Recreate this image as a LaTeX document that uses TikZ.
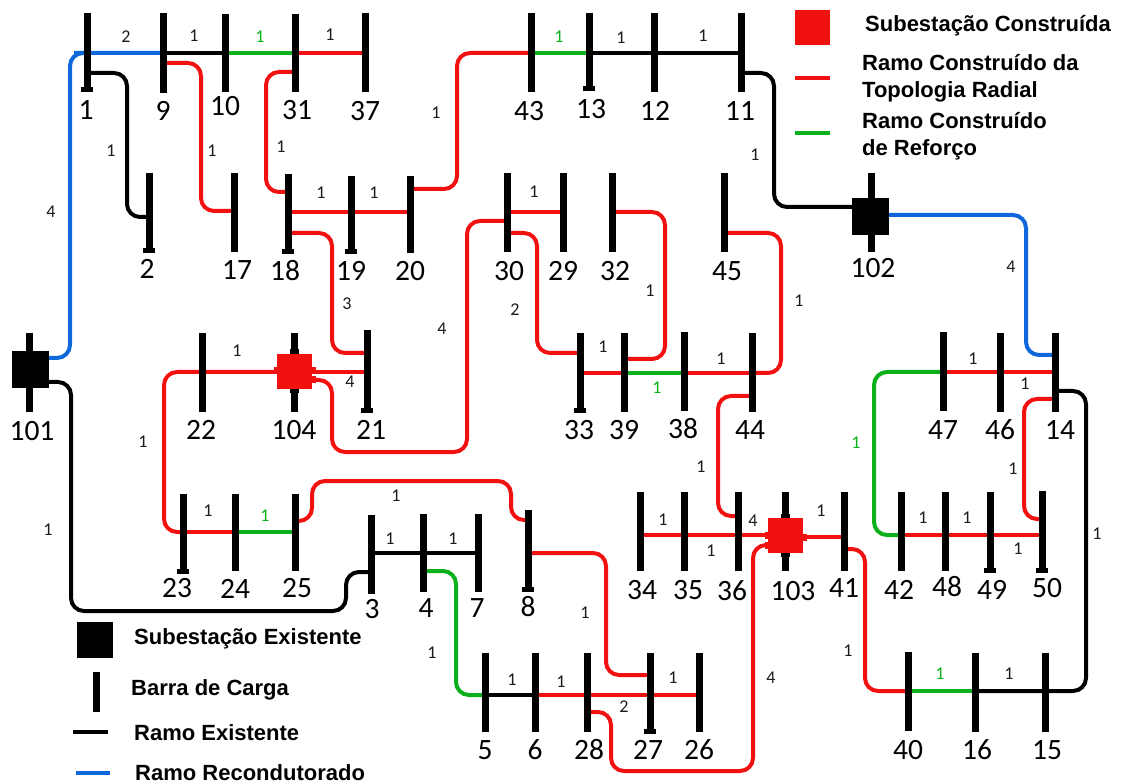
\documentclass[tikz,border=0pt]{standalone}
\usepackage{fontspec}
\setmainfont{Carlito}
\newfontfamily\legfont{Liberation Sans}
\pgfdeclarelayer{bg}
\pgfsetlayers{bg,main}
\definecolor{cred}{HTML}{F21111}
\definecolor{cgreen}{HTML}{0BB01C}
\definecolor{cblue}{HTML}{0F68D9}
\definecolor{ctext}{HTML}{1A1A1A}
\tikzset{
  x=1pt,y=-1pt,
  busbar/.style={rectangle,fill=black,draw=none,inner sep=0pt,minimum width=7pt},
  busfoot/.style={rectangle,fill=black,draw=none,inner sep=0pt,minimum width=12pt,minimum height=5pt},
  busname/.style={inner sep=0pt,text=black,font=\fontsize{29.5}{31}\selectfont},
  edgelab/.style={inner sep=0pt,text=ctext,font=\fontsize{18}{20}\selectfont},
  edgelabg/.style={edgelab,text=cgreen},
  sqblack/.style={rectangle,fill=black,draw=none,inner sep=0pt,minimum size=37pt},
  sqred/.style={rectangle,fill=cred,draw=none,inner sep=0pt,minimum size=35pt},
  stubk/.style={rectangle,fill=black,draw=none,inner sep=0pt,minimum width=9pt,minimum height=5pt},
  stubr/.style={rectangle,fill=cred,draw=none,inner sep=0pt,minimum width=7pt,minimum height=7pt},
  ex/.style={line width=4pt,draw=black,rounded corners=13pt},
  rad/.style={line width=4pt,draw=cred,rounded corners=13pt},
  ref/.style={line width=4pt,draw=cgreen,rounded corners=13pt},
  rec/.style={line width=4pt,draw=cblue,rounded corners=13pt},
  legtext/.style={inner sep=0pt,anchor=west,align=left,text=black,font=\legfont\bfseries\fontsize{22}{27}\selectfont},
}
\newcommand{\bus}[6]{%
  \node[busbar,minimum height={(#4)-(#3)}] (b#1) at (#2,{((#3)+(#4))/2}) {};
  \node[busname] (n#1) at (#5,{(#6)+1}) {#1};}
\newcommand{\busf}[6]{%
  \bus{#1}{#2}{#3}{#4}{#5}{#6}
  \node[busfoot] (f#1) at (#2,{(#4)-1}) {};}
\newcommand{\elab}[3]{\node[edgelab] (e#1) at (#2,#3) {1};}
\begin{document}
\begin{tikzpicture}
\useasboundingbox (0,0) rectangle (1122,783);
% top row
\busf{1}{87}{13}{91}{86}{109}
\bus{9}{163}{13}{93}{163}{110}
\bus{10}{225}{14}{92}{225}{105}
\bus{31}{295}{14}{92}{297}{109}
\bus{37}{365}{13}{92}{365}{110}
\bus{43}{531}{13}{92}{529}{110}
\busf{13}{589}{13}{90}{591}{108}
\bus{12}{654}{13}{92}{655}{110}
\bus{11}{741}{13}{92}{740}{110}
% second row
\busf{2}{149}{173}{252}{147}{268}
\bus{17}{234}{173}{252}{237}{269}
\busf{18}{288}{174}{253}{285}{270}
\busf{19}{351}{176}{253}{351}{270}
\bus{20}{410}{176}{253}{410}{270}
\bus{30}{507}{173}{252}{509}{270}
\bus{29}{563}{173}{252}{563}{270}
\bus{32}{612}{173}{252}{615}{270}
\bus{45}{724}{173}{252}{727}{270}
\bus{102}{871}{173}{252}{873}{267}
% third row
\bus{101}{29}{333}{412}{32}{430}
\bus{22}{202}{333}{412}{201}{429}
\bus{104}{294}{333}{412}{294}{429}
\busf{21}{367}{330}{412}{371}{429}
\busf{33}{580}{333}{412}{579}{429}
\bus{39}{624}{333}{412}{624}{429}
\bus{38}{684}{332}{411}{683}{428}
\bus{44}{752}{333}{412}{750}{429}
\bus{47}{943}{332}{411}{943}{429}
\bus{46}{1000}{333}{412}{1000}{429}
\bus{14}{1055}{333}{412}{1060}{429}
% fourth row
\busf{23}{183}{494}{572}{177}{587}
\bus{24}{235}{494}{571}{235}{588}
\bus{25}{295}{494}{571}{297}{587}
\bus{3}{371}{515}{594}{372}{608}
\bus{4}{423}{514}{592}{426}{607}
\bus{7}{478}{514}{592}{477}{607}
\busf{8}{528}{510}{590}{528}{606}
\bus{34}{640}{492}{571}{642}{589}
\bus{35}{684}{492}{571}{688}{589}
\bus{36}{738}{492}{571}{732}{590}
\bus{103}{785}{492}{571}{793}{590}
\bus{41}{844}{492}{571}{844}{587}
\bus{42}{901}{492}{571}{899}{589}
\bus{48}{945}{492}{571}{947}{586}
\busf{49}{990}{492}{571}{992}{589}
\busf{50}{1042}{491}{571}{1047}{587}
% fifth row
\bus{5}{485}{653}{732}{485}{749}
\bus{6}{535}{653}{732}{535}{749}
\bus{28}{587}{653}{732}{589}{749}
\busf{27}{650}{653}{732}{648}{749}
\bus{26}{699}{653}{732}{699}{749}
\bus{40}{908}{652}{731}{908}{749}
\bus{16}{975}{653}{732}{977}{749}
\bus{15}{1045}{653}{732}{1047}{749}
% substations
\node[stubk] (k104t) at (294,352) {};
\node[stubk] (k104b) at (294,391) {};
\node[stubr] (r104l) at (277,371) {};
\node[stubr] (r104r) at (312,371) {};
\node[stubr] (r104s) at (312,380) {};
\node[stubk] (k103t) at (785,516) {};
\node[stubk] (k103b) at (785,554) {};
\node[stubr] (r103l) at (768,535) {};
\node[stubr] (r103r) at (803,537) {};
\node[stubr] (r103s) at (768,545) {};
\node[sqblack] (s101) at (30.5,369.5) {};
\node[sqblack] (s102) at (870.5,216.5) {};
\node[sqred] (s104) at (294.5,371.5) {};
\node[sqred] (s103) at (785.5,535) {};
% connectors
\begin{pgfonlayer}{bg}
\draw[rec] (s101 |- 0,358) -- (70,358) -- (70,53) -- (b1 |- 0,53) -- (b9 |- 0,53);
\draw[ex] (b1 |- 0,73) -- (127,73) -- (127,217) -- (b2 |- 0,217);
\draw[ex] (b9 |- 0,53) -- (b10 |- 0,53);
\draw[ref] (b10 |- 0,53) -- (b31 |- 0,53);
\draw[rad] (b31 |- 0,53) -- (b37 |- 0,53);
\draw[rad] (b9 |- 0,63) -- (201,63) -- (201,211) -- (b17 |- 0,211);
\draw[rad] (b31 |- 0,72) -- (266,72) -- (266,192) -- (b18 |- 0,192);
\draw[rad] (b18 |- 0,212) -- (b19 |- 0,212) -- (b20 |- 0,212);
\draw[rad] (b18 |- 0,233) -- (332,233) -- (332,353) -- (b21 |- 0,353);
\draw[rad] (b20 |- 0,189) -- (457,189) -- (457,53) -- (b43 |- 0,53);
\draw[ref] (b43 |- 0,53) -- (b13 |- 0,53);
\draw[ex] (b13 |- 0,53) -- (b12 |- 0,53) -- (b11 |- 0,53);
\draw[ex] (b11 |- 0,73) -- (774,73) -- (774,207) -- (s102 |- 0,207);
\draw[rec] (s102 |- 0,215) -- (1026,215) -- (1026,355) -- (b14 |- 0,355);
\draw[rad] (b30 |- 0,212) -- (b29 |- 0,212);
\draw[rad] (b30 |- 0,221) -- (467,221) -- (467,452) -- (332,452) -- (332,380) -- (s104 |- 0,380);
\draw[rad] (b30 |- 0,233) -- (537,233) -- (537,353) -- (b33 |- 0,353);
\draw[rad] (b32 |- 0,212) -- (665,212) -- (665,359) -- (b39 |- 0,359);
\draw[rad] (b45 |- 0,233) -- (781,233) -- (781,373) -- (b44 |- 0,373);
\draw[rad] (b33 |- 0,373) -- (b39 |- 0,373);
\draw[ref] (b39 |- 0,373) -- (b38 |- 0,373);
\draw[rad] (b38 |- 0,373) -- (b44 |- 0,373);
\draw[rad] (b44 |- 0,396) -- (718,396) -- (718,516) -- (b36 |- 0,516);
\draw[rad] (s104 |- 0,372) -- (b22 |- 0,372) -- (164,372) -- (164,532) -- (b23 |- 0,532);
\draw[rad] (s104 |- 0,372) -- (b21 |- 0,372);
\draw[rad] (b23 |- 0,532) -- (b24 |- 0,532);
\draw[ref] (b24 |- 0,532) -- (b25 |- 0,532);
\draw[rad] (b25 |- 0,521) -- (312,521) -- (312,481) -- (511,481) -- (511,520) -- (b8 |- 0,520);
\draw[ex] (s101 |- 0,382) -- (71,382) -- (71,611) -- (346,611) -- (346,572) -- (b3 |- 0,572);
\draw[ex] (b3 |- 0,553) -- (b4 |- 0,553) -- (b7 |- 0,553);
\draw[ref] (b4 |- 0,571) -- (456,571) -- (456,695) -- (b5 |- 0,695);
\draw[ex] (b5 |- 0,695) -- (b6 |- 0,695);
\draw[rad] (b6 |- 0,695) -- (b28 |- 0,695) -- (b27 |- 0,695) -- (b26 |- 0,695);
\draw[rad] (b8 |- 0,553) -- (606,553) -- (606,675) -- (b27 |- 0,675);
\draw[rad] (b28 |- 0,712) -- (611,712) -- (611,771) -- (753,771) -- (753,545) -- (s103 |- 0,545);
\draw[rad] (b34 |- 0,535) -- (b35 |- 0,535) -- (b36 |- 0,535) -- (s103 |- 0,535);
\draw[rad] (s103 |- 0,537) -- (b41 |- 0,537);
\draw[rad] (b41 |- 0,549) -- (865,549) -- (865,691) -- (b40 |- 0,691);
\draw[ref] (b40 |- 0,691) -- (b16 |- 0,691);
\draw[ex] (b16 |- 0,691) -- (b15 |- 0,691) -- (1086,691) -- (1086,391) -- (b14 |- 0,391);
\draw[rad] (b47 |- 0,372) -- (b46 |- 0,372) -- (b14 |- 0,372);
\draw[ref] (b47 |- 0,372) -- (874,372) -- (874,535) -- (b42 |- 0,535);
\draw[rad] (b42 |- 0,535) -- (b48 |- 0,535) -- (b49 |- 0,535) -- (b50 |- 0,535);
\draw[rad] (b14 |- 0,399) -- (1024,399) -- (1024,519) -- (b50 |- 0,519);
\end{pgfonlayer}
% edge labels
\node[edgelab] (l2a) at (126,37) {2};
\elab{01}{194}{36}
\node[edgelabg] (g1) at (260,37) {1};
\elab{02}{330}{35}
\elab{03}{436}{113}
\node[edgelabg] (g2) at (559,37) {1};
\elab{04}{621}{38}
\elab{05}{703}{36}
\elab{06}{111}{151}
\elab{07}{212}{151}
\elab{08}{281}{147}
\elab{09}{321}{193}
\elab{10}{374}{193}
\node[edgelab] (l4a) at (51,212) {4};
\elab{11}{755}{155}
\elab{12}{534}{192}
\node[edgelab] (l4b) at (1011,267) {4};
\elab{13}{650}{291}
\elab{14}{799}{301}
\node[edgelab] (l3a) at (347,304) {3};
\node[edgelab] (l2b) at (515,310) {2};
\node[edgelab] (l4c) at (442,329) {4};
\elab{15}{603}{347}
\elab{16}{237}{351}
\node[edgelab] (l4d) at (350,382) {4};
\elab{17}{721}{359}
\node[edgelabg] (g3) at (657,388) {1};
\elab{18}{973}{359}
\elab{19}{1025}{384}
\elab{20}{143}{442}
\node[edgelabg] (g4) at (856,443) {1};
\elab{21}{701}{467}
\elab{22}{1013}{469}
\elab{23}{396}{496}
\elab{24}{208}{511}
\node[edgelabg] (g5) at (265,516) {1};
\elab{25}{48}{530}
\elab{26}{663}{520}
\elab{27}{711}{551}
\node[edgelab] (l4e) at (753,521) {4};
\elab{28}{821}{511}
\elab{29}{923}{518}
\elab{30}{967}{518}
\elab{31}{1018}{549}
\elab{32}{1097}{534}
\elab{33}{390}{539}
\elab{34}{453}{539}
\elab{35}{585}{613}
\elab{36}{432}{653}
\elab{37}{512}{680}
\elab{38}{561}{682}
\node[edgelab] (l2c) at (624,707) {2};
\elab{39}{673}{678}
\node[edgelab] (l4f) at (771,678) {4};
\elab{40}{848}{651}
\node[edgelabg] (g6) at (940,674) {1};
\elab{41}{1009}{674}
% legend
\node[sqred] (lgsqr) at (812.5,27.5) {};
\node[legtext] (lgt1) at (865,26) {Subestação Construída};
\coordinate (lgra) at (795,78.5); \coordinate (lgrb) at (830,78.5);
\draw[line width=4pt,cred] (lgra) -- (lgrb);
\node[legtext] (lgt2) at (862,78) {Ramo Construído da\\Topologia Radial};
\coordinate (lgga) at (795,133); \coordinate (lggb) at (830,133);
\draw[line width=4pt,cgreen] (lgga) -- (lggb);
\node[legtext] (lgt3) at (862,136.5) {Ramo Construído\\de Reforço};
\node[sqblack,minimum size=36pt] (lgsqk) at (95,640) {};
\node[legtext] (lgt4) at (134,639) {Subestação Existente};
\node[busbar,minimum height=40pt] (lgbar) at (96.5,692) {};
\node[legtext] (lgt5) at (131,690) {Barra de Carga};
\coordinate (lgka) at (73,732); \coordinate (lgkb) at (108,732);
\draw[line width=4pt,black] (lgka) -- (lgkb);
\node[legtext] (lgt6) at (134,732.5) {Ramo Existente};
\coordinate (lgba) at (76,773); \coordinate (lgbb) at (110,773);
\draw[line width=4pt,cblue] (lgba) -- (lgbb);
\node[legtext] (lgt7) at (135,772.5) {Ramo Recondutorado};
\end{tikzpicture}
\end{document}
